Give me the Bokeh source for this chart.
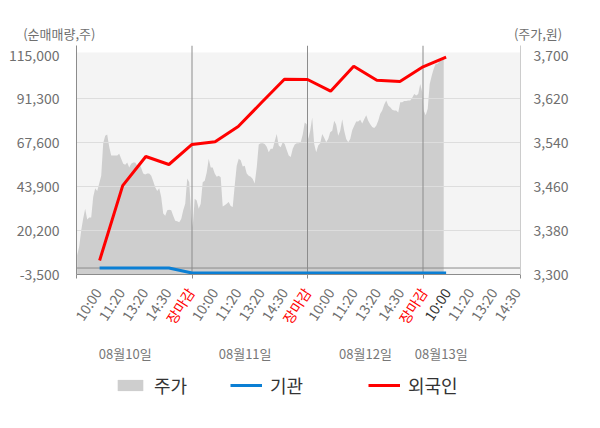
import math
from bokeh.plotting import figure
from bokeh.models import (Range1d, LinearAxis, FixedTicker, NumeralTickFormatter, Span,
                          Legend, LegendItem, BoxAnnotation)
from bokeh.embed import file_html
from bokeh.resources import INLINE
from bokeh.core.properties import value

FONT = "Noto Sans CJK KR"

# ---------------- data ----------------
day_names = ["08월10일", "08월11일", "08월12일", "08월13일"]
time_labels = ["10:00", "11:20", "13:20", "14:30", "장마감"]
last_day_labels = ["10:00", "11:20", "13:20", "14:30"]

left_ticks = [-3500, 20200, 43900, 67600, 91300, 115000]
right_ticks = [3300, 3380, 3460, 3540, 3620, 3700]

# 외국인 순매매량 (cumulative, 주) at each label slot
foreign = [4060, 44500, 60210, 55890, 66690, 68150, 76400, 89200,
           101940, 101780, 95460, 108960, 101400, 100700, 108600, 113800]
# 기관 순매매량
institution = [0, 0, 0, 0, -2700, -2700, -2700, -2700,
               -2700, -2700, -2700, -2700, -2700, -2700, -2700, -2700]

# 주가 (원), intraday samples per day
price_day1 = [3335, 3351, 3380, 3402, 3420, 3400, 3404, 3404, 3441, 3457,
              3452, 3466, 3480, 3539, 3553, 3555, 3533, 3517, 3517, 3517,
              3517, 3520, 3511, 3502, 3500, 3504, 3495, 3502, 3504, 3504,
              3498, 3504, 3494, 3484, 3482, 3484, 3484, 3480, 3470, 3459,
              3452, 3457, 3441, 3411, 3407, 3417, 3418, 3417, 3407, 3398,
              3397, 3395, 3401, 3417, 3429, 3475, 3468, 3407]
price_day2 = [3386, 3438, 3435, 3420, 3429, 3468, 3471, 3486, 3511, 3495,
              3495, 3484, 3478, 3480, 3477, 3424, 3426, 3429, 3432, 3425,
              3423, 3462, 3498, 3511, 3508, 3497, 3498, 3484, 3480, 3478,
              3474, 3466, 3495, 3537, 3539, 3539, 3538, 3533, 3523, 3529,
              3529, 3543, 3556, 3535, 3532, 3541, 3538, 3527, 3517, 3514,
              3529, 3537, 3539, 3539, 3541, 3555, 3577, 3574]
price_day3 = [3547, 3562, 3586, 3538, 3523, 3535, 3539, 3556, 3549, 3541,
              3547, 3559, 3562, 3580, 3573, 3553, 3562, 3583, 3562, 3547,
              3541, 3547, 3563, 3571, 3579, 3579, 3582, 3575, 3583, 3590,
              3580, 3574, 3569, 3567, 3571, 3580, 3593, 3599, 3610, 3617,
              3608, 3605, 3600, 3599, 3599, 3595, 3614, 3614, 3616, 3616,
              3617, 3617, 3622, 3629, 3626, 3629, 3647, 3632]
price_day4 = [3599, 3590, 3602, 3647, 3662, 3675, 3684, 3684, 3691, 3690, 3695]

# ---------------- layout constants ----------------
W = 596
HEAD_H, MAIN_H, FOOT_H = 45, 239, 140
FR_LEFT, FR_RIGHT = 76, 520
SLOTS_PER_DAY = 5
SAMPLE_STEP = 0.0866
X_END = 19.22
SCALE = (FR_RIGHT - FR_LEFT) / X_END
LBL_STEP, LBL_OFF = 1.0074, -0.098
LBL_ANGLE = math.radians(57)
Y_TOP = 120130
BG_TOP = 116350
P_BOTTOM = 3300
P_TOP = 3717.3
GREY_TXT = "#6f6f6f"
AXIS_COL = "#8c8c8c"
BLUE = "#0b7fd4"
RED = "#ff0000"
AREA = "#cecece"


def bare(width, height, xr, yr):
    f = figure(width=width, height=height, output_backend="svg", toolbar_location=None,
               x_range=xr, y_range=yr, x_axis_location=None, y_axis_location=None,
               min_border_left=0, min_border_right=0, min_border_top=0, min_border_bottom=0)
    f.grid.visible = False
    f.outline_line_color = None
    f.background_fill_color = "white"
    f.border_fill_color = "white"
    return f


# ---------------- header (unit captions) ----------------
head = bare(W, HEAD_H, Range1d(0, W), Range1d(HEAD_H, 0))
head.text(x=[22.7], y=[33.3], text=["(순매매량,주)"], text_align="left", text_baseline="middle",
          text_color=GREY_TXT, text_font=value(FONT), text_font_size="13px")
head.text(x=[561.7], y=[33.3], text=["(주가,원)"], text_align="right", text_baseline="middle",
          text_color=GREY_TXT, text_font=value(FONT), text_font_size="13px")

# ---------------- main chart ----------------
p = figure(width=W, height=MAIN_H, output_backend="svg", toolbar_location=None,
           x_range=Range1d(0, X_END), y_range=Range1d(left_ticks[0], Y_TOP),
           min_border_left=FR_LEFT, min_border_right=W - FR_RIGHT,
           min_border_top=0, min_border_bottom=10)
p.extra_y_ranges = {"price": Range1d(P_BOTTOM, P_TOP)}
p.background_fill_color = "white"
p.border_fill_color = "white"
p.outline_line_color = None

p.add_layout(BoxAnnotation(top=BG_TOP, fill_color="#f4f4f4", fill_alpha=1,
                           line_color=None, level="image"))

px, py = [], []
for d, arr in enumerate([price_day1, price_day2, price_day3, price_day4]):
    for i, v in enumerate(arr):
        px.append(d * SLOTS_PER_DAY + 0.03 + i * SAMPLE_STEP)
        py.append(v)
p.varea(x=px, y1=[P_BOTTOM] * len(px), y2=py, y_range_name="price",
        fill_color=AREA, level="underlay")

p.xgrid.visible = False
p.ygrid.ticker = FixedTicker(ticks=left_ticks[1:5])
p.ygrid.grid_line_color = "#dddddd"
p.ygrid.level = "underlay"
for d in range(1, 4):
    p.add_layout(Span(location=d * SLOTS_PER_DAY, dimension="height",
                      line_color=AXIS_COL, line_width=1, level="underlay"))
p.add_layout(Span(location=0, dimension="width", line_color=AXIS_COL,
                  line_width=1, level="underlay"))

slot_x = list(range(1, len(foreign) + 1))
p.line(slot_x, institution, line_color=BLUE, line_width=3)
p.line(slot_x, foreign, line_color=RED, line_width=3)

p.yaxis.ticker = FixedTicker(ticks=left_ticks)
p.yaxis.formatter = NumeralTickFormatter(format="0,0")
ax_r = LinearAxis(y_range_name="price", ticker=FixedTicker(ticks=right_ticks),
                  formatter=NumeralTickFormatter(format="0,0"))
p.add_layout(ax_r, "right")
for ax, col, st in [(p.yaxis[0], AXIS_COL, 11), (ax_r, "#cccccc", 7)]:
    ax.axis_line_color = col
    ax.major_tick_line_color = None
    ax.minor_tick_line_color = None
    ax.major_label_standoff = st
    ax.major_label_text_font = FONT
    ax.major_label_text_font_size = "14px"
    ax.major_label_text_color = GREY_TXT

# bottom axis: only day-boundary tick marks (as minor ticks), labels drawn in footer
p.xaxis.ticker = FixedTicker(ticks=[], minor_ticks=[0, 5, 10, 15, X_END])
p.xaxis.axis_line_color = AXIS_COL
p.xaxis.major_tick_line_color = None
p.xaxis.major_tick_out = 0
p.xaxis.major_tick_in = 0
p.xaxis.minor_tick_line_color = AXIS_COL
p.xaxis.minor_tick_out = 4
p.xaxis.minor_tick_in = 0
p.xaxis.major_label_standoff = 0

# ---------------- footer: time labels, dates, legend ----------------
foot = bare(W, FOOT_H, Range1d(-FR_LEFT / SCALE, (W - FR_LEFT) / SCALE), Range1d(FOOT_H, 0))
foot.extra_y_ranges = {"off": Range1d(1e7, 2e7)}
tx, tt, tc = [], [], []
for d in range(3):
    for j, t in enumerate(time_labels):
        tx.append(d * SLOTS_PER_DAY + j + 1)
        tt.append(t)
        tc.append(RED if t == "장마감" else GREY_TXT)
for j, t in enumerate(last_day_labels):
    tx.append(3 * SLOTS_PER_DAY + j + 1)
    tt.append(t)
    tc.append("#333333" if j == 0 else GREY_TXT)
foot.text(x=[k * LBL_STEP + LBL_OFF for k in tx], y=[5] * len(tx), text=tt, text_color=tc,
          angle=LBL_ANGLE, text_align="right", text_baseline="middle",
          text_font=value(FONT), text_font_size="14px")
foot.text(x=[2.11, 7.30, 12.51, 15.79], y=[69.3] * 4, text=day_names,
          text_align="center", text_baseline="middle", text_color="#777777",
          text_font=value(FONT), text_font_size="13px")

# legend proxies (same series, mapped off-screen in this panel)
lg_area = foot.varea(x=px, y1=[P_BOTTOM] * len(px), y2=py, y_range_name="off", fill_color=AREA)
lg_inst = foot.line(x=slot_x, y=institution, y_range_name="off", line_color=BLUE, line_width=3)
lg_for = foot.line(x=slot_x, y=foreign, y_range_name="off", line_color=RED, line_width=3)
for lab, r, xloc in [("주가", lg_area, 114), ("기관", lg_inst, 230), ("외국인", lg_for, 368)]:
    lg = Legend(items=[LegendItem(label=lab, renderers=[r])], location=(xloc, 25.7),
                orientation="horizontal", glyph_width=32, glyph_height=14,
                label_height=14, label_standoff=8, padding=0, margin=0, spacing=0,
                border_line_color=None, background_fill_alpha=0,
                label_text_font=FONT, label_text_font_size="18px",
                label_text_color="#333333")
    foot.add_layout(lg)

open("out.html", "w").write(file_html([head, p, foot], INLINE))
